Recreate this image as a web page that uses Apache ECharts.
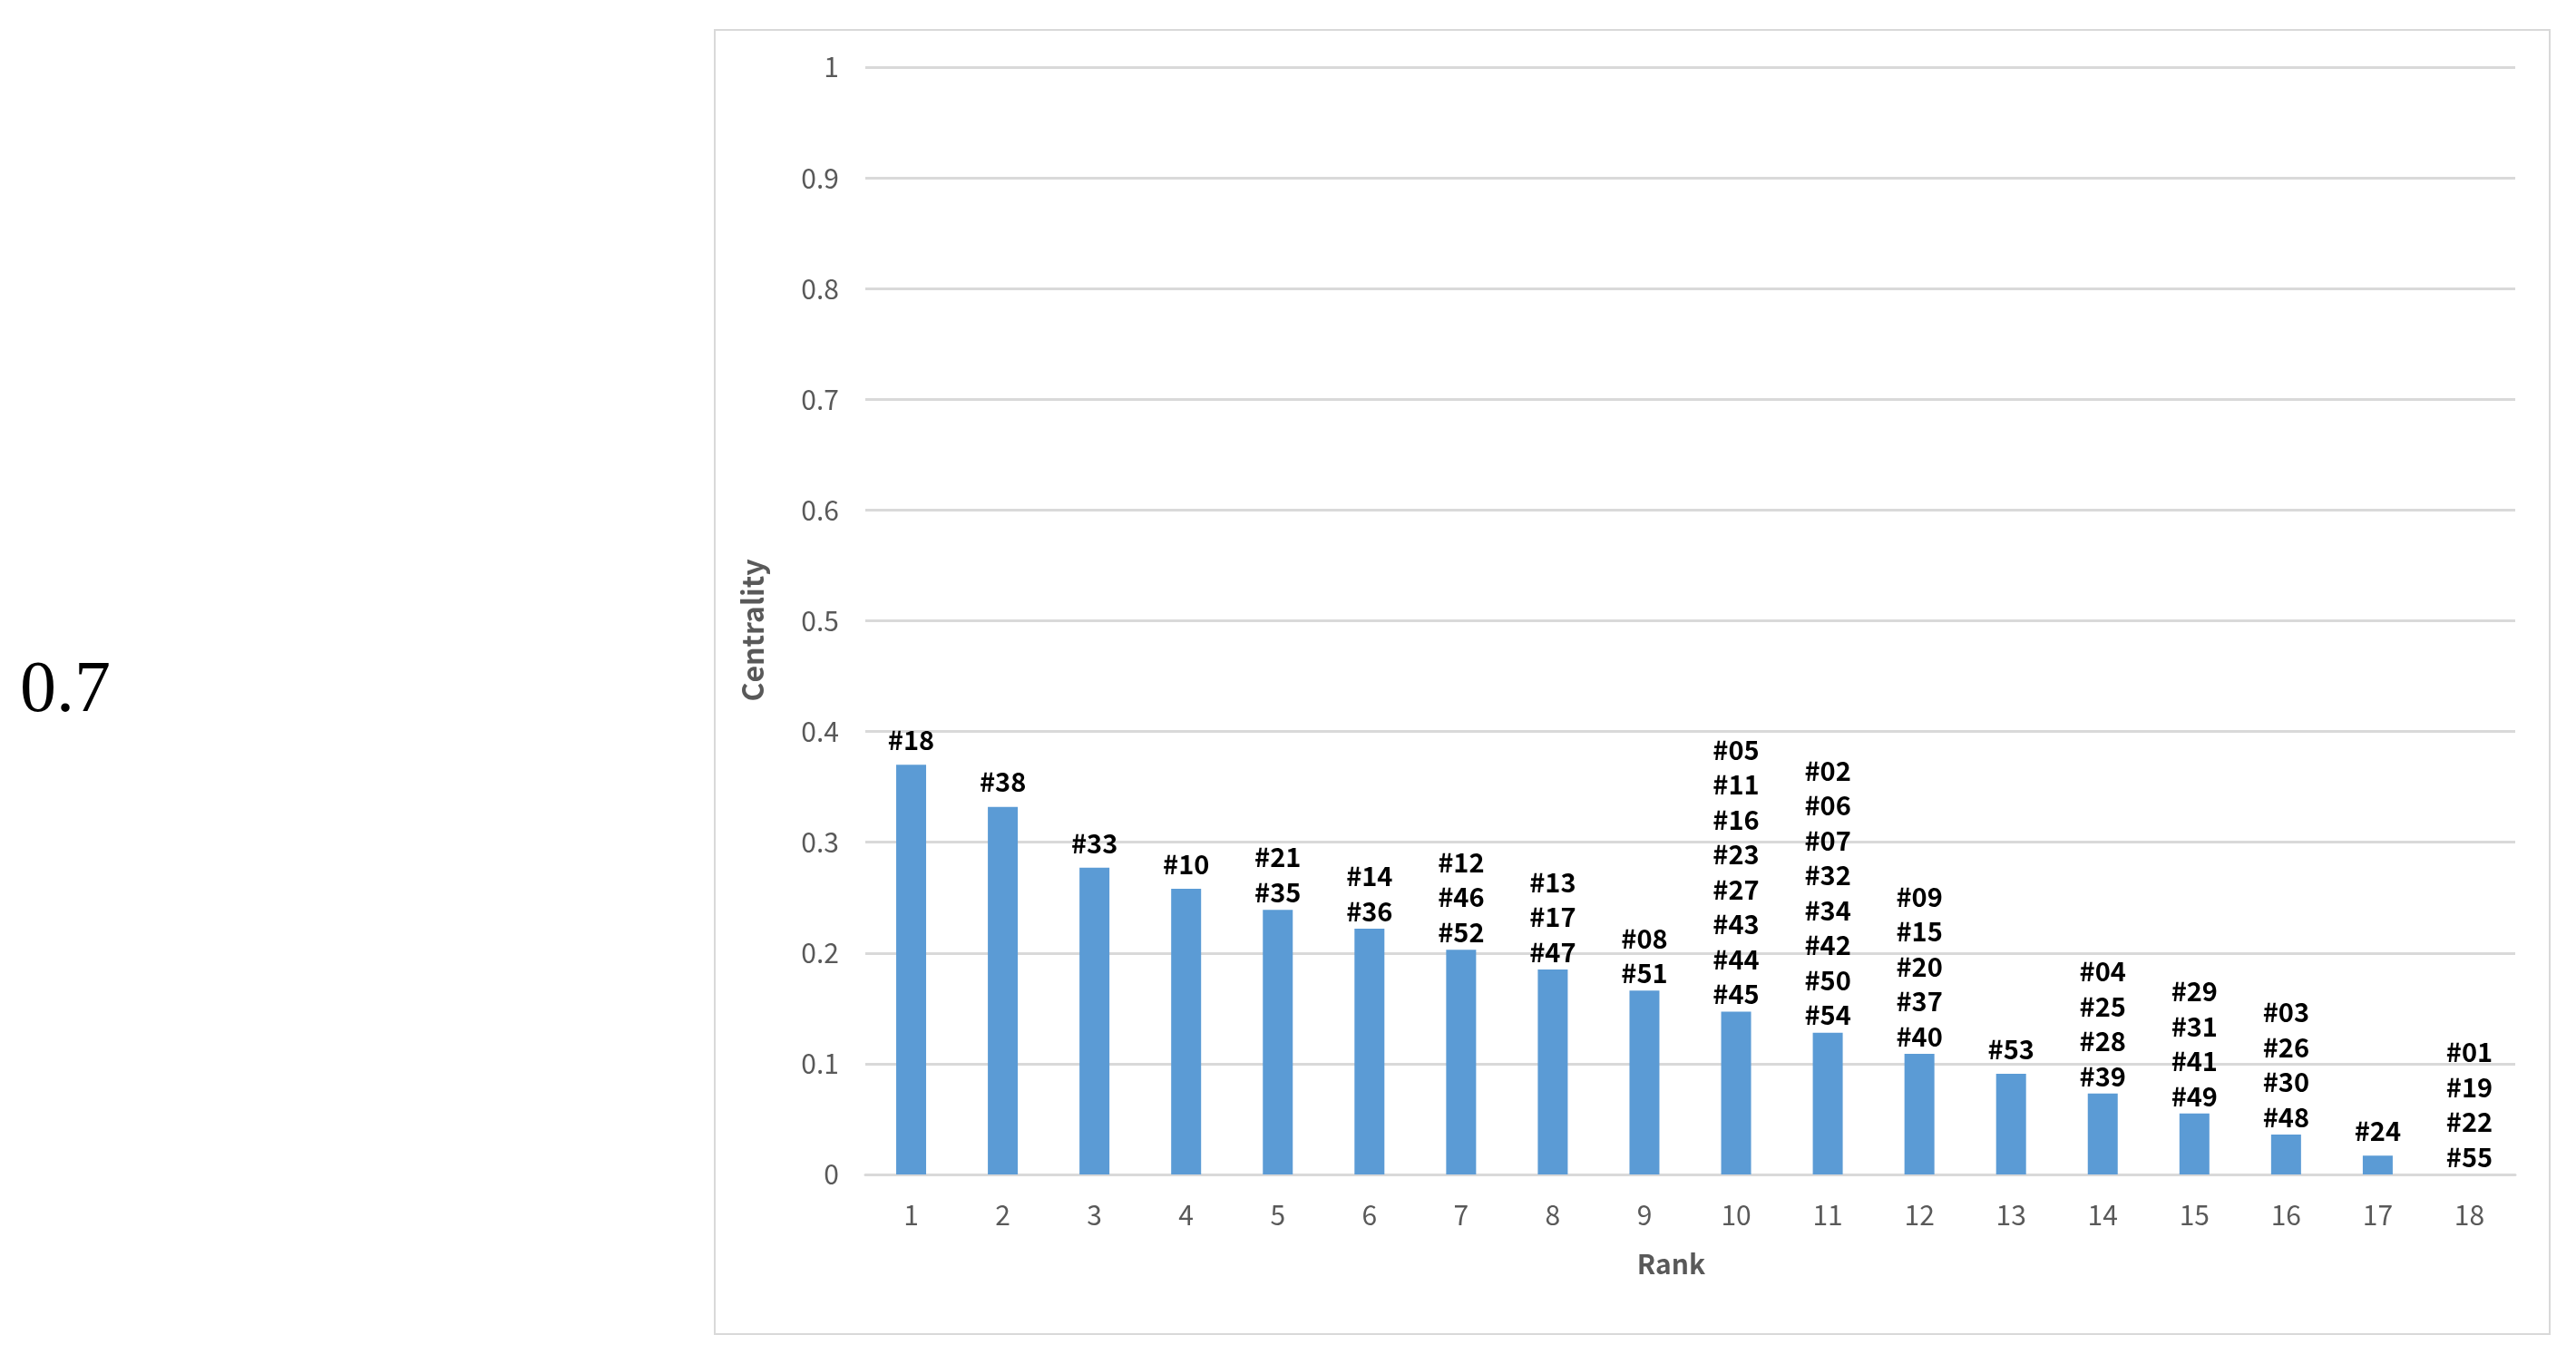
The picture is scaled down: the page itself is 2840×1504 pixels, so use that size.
<!DOCTYPE html>
<html>
<head>
<meta charset="utf-8">
<script src="https://cdn.jsdelivr.net/npm/echarts@6/dist/echarts.min.js"></script>
<style>
html,body{margin:0;padding:0;background:#fff;}
#chart{width:2840px;height:1504px;}
</style>
</head>
<body>
<div id="chart"></div>
<script>
const ranks = ['1','2','3','4','5','6','7','8','9','10','11','12','13','14','15','16','17','18'];
const centrality = [0.370, 0.332, 0.277, 0.258, 0.239, 0.222, 0.203, 0.185, 0.166, 0.147, 0.128, 0.109, 0.091, 0.073, 0.055, 0.036, 0.017, 0];
const nodeGroups = [
  ['#18'],
  ['#38'],
  ['#33'],
  ['#10'],
  ['#21','#35'],
  ['#14','#36'],
  ['#12','#46','#52'],
  ['#13','#17','#47'],
  ['#08','#51'],
  ['#05','#11','#16','#23','#27','#43','#44','#45'],
  ['#02','#06','#07','#32','#34','#42','#50','#54'],
  ['#09','#15','#20','#37','#40'],
  ['#53'],
  ['#04','#25','#28','#39'],
  ['#29','#31','#41','#49'],
  ['#03','#26','#30','#48'],
  ['#24'],
  ['#01','#19','#22','#55']
];
const yTicks = ['0','0.1','0.2','0.3','0.4','0.5','0.6','0.7','0.8','0.9','1'];
const sideNote = '0.7';

const chart = echarts.init(document.getElementById('chart'));
const font = '"Noto Sans CJK KR", "Noto Sans", sans-serif';

const barData = centrality.map((v, i) => ({
  value: v,
  label: {
    formatter: nodeGroups[i].join('\n'),
    distance: nodeGroups[i].length === 1 ? 8 : 0
  }
}));

chart.setOption({
  animation: false,
  backgroundColor: '#ffffff',
  graphic: [
    {
      type: 'rect',
      shape: {x: 788, y: 33, width: 2023, height: 1438},
      style: {fill: 'none', stroke: '#d9d9d9', lineWidth: 2},
      silent: true
    },
    {
      type: 'text',
      left: 22,
      top: 723,
      style: {text: sideNote, font: '80px "Liberation Serif", serif', fill: '#000'}
    }
  ],
  grid: {left: 954, right: 67, top: 74, bottom: 209},
  xAxis: {
    type: 'category',
    data: ranks,
    name: 'Rank',
    nameLocation: 'middle',
    nameGap: 84,
    nameTextStyle: {fontFamily: font, fontSize: 30, fontWeight: 'bold', color: '#595959', padding: [0, 42, 0, 0]},
    axisLine: {show: true, lineStyle: {color: '#d9d9d9', width: 3}},
    axisTick: {show: false},
    axisLabel: {fontFamily: font, fontSize: 30, color: '#595959', margin: 30}
  },
  yAxis: {
    type: 'value',
    min: 0,
    max: 1,
    interval: 0.1,
    name: 'Centrality',
    nameLocation: 'middle',
    nameGap: 108,
    nameRotate: 90,
    nameTextStyle: {fontFamily: font, fontSize: 32, fontWeight: 'bold', color: '#595959', padding: [0, 21, 0, 0]},
    axisLine: {show: false},
    axisTick: {show: false},
    axisLabel: {
      fontFamily: font, fontSize: 30, color: '#595959', margin: 29,
      formatter: (v) => yTicks[Math.round(v * 10)]
    },
    splitLine: {lineStyle: {color: '#d9d9d9', width: 3}}
  },
  series: [{
    type: 'bar',
    data: barData,
    barWidth: 33,
    itemStyle: {color: '#5b9bd5'},
    label: {
      show: true,
      position: 'top',
      fontFamily: font,
      fontSize: 29,
      fontWeight: 'bold',
      color: '#000',
      lineHeight: 38.5
    }
  }]
});
</script>
</body>
</html>
